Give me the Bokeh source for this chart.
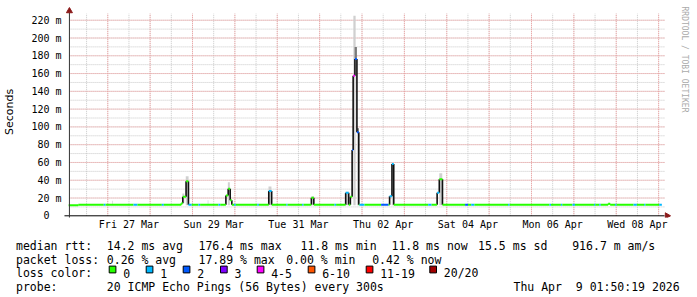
import numpy as np
from bokeh.plotting import figure
from bokeh.models import Range1d, FixedTicker, Title
from bokeh.embed import file_html
from bokeh.resources import INLINE
from bokeh.core.properties import value

# ---------------- data ----------------
# time axis: days since Thu 26 Mar 2026 00:00
T_START = 0.0766   # Thu 26 Mar 01:50:19
T_END = 14.0766    # Thu 09 Apr 01:50:19

# median rtt as steps: step start (days), median (ms), loss class index
med_t = [0.077, 0.306, 0.906, 0.948, 1.607, 1.701, 2.276, 2.323, 2.736, 2.771,
         2.848, 2.904, 2.982, 3.140, 3.180, 3.612, 3.655, 3.788, 3.842, 3.889,
         3.928, 3.982, 4.021, 4.529, 4.566, 4.800, 4.868, 5.213, 5.243, 5.587,
         5.622, 5.805, 5.863, 6.351, 6.389, 6.615, 6.686, 6.725, 6.767, 6.791,
         6.833, 6.880, 6.924, 6.942, 7.059, 7.450, 7.627, 7.651, 7.707, 7.749,
         8.562, 8.642, 8.773, 8.824, 8.899, 9.432, 9.502, 9.577, 9.653, 10.448,
         10.483, 11.423, 11.460, 11.694, 11.727, 11.967, 12.026, 12.474, 12.505, 12.599,
         12.634, 12.809, 12.856, 12.972, 13.007, 13.409, 13.487, 13.658, 13.690, 14.013]
med_ms = [11.8, 12.3, 12.3, 12.3, 12.3, 12.3, 12.3, 12.3, 14.0, 21.5,
          38.8, 12.3, 12.3, 12.3, 12.3, 12.3, 12.3, 22.7, 30.3, 17.5,
          12.3, 12.3, 12.3, 12.3, 12.3, 28.0, 12.3, 12.3, 12.3, 12.3,
          12.3, 20.2, 12.3, 12.3, 12.3, 25.8, 12.3, 21.5, 74.0, 157.5,
          176.4, 94.0, 12.3, 12.3, 12.3, 12.3, 12.3, 22.0, 58.4, 12.3,
          12.3, 12.3, 26.0, 41.0, 12.3, 12.3, 12.3, 12.3, 12.3, 12.3,
          12.3, 12.3, 12.3, 12.3, 12.3, 12.3, 12.3, 12.3, 12.3, 12.3,
          12.3, 13.5, 12.3, 12.3, 12.3, 12.3, 12.3, 12.3, 12.3, 12.3]
med_loss = [0, 0, 1, 0, 1, 0, 1, 0, 0, 0,
            0, 1, 0, 1, 0, 1, 0, 0, 0, 0,
            0, 1, 0, 1, 0, 1, 0, 1, 0, 1,
            0, 0, 0, 1, 0, 1, 0, 0, 2, 4,
            2, 2, 0, 1, 0, 2, 0, 1, 1, 0,
            1, 0, 1, 0, 0, 2, 0, 1, 0, 1,
            0, 1, 0, 1, 0, 1, 0, 1, 0, 1,
            0, 0, 0, 1, 0, 1, 0, 1, 0, 1]

# smoke (spread of the individual pings)
smoke_t0 = [2.760, 2.841, 3.834, 4.793, 5.809, 6.615, 6.796, 6.826, 6.880, 6.880, 7.703, 8.824, 1.100, 3.359]
smoke_t1 = [2.806, 2.907, 3.881, 4.863, 5.868, 6.686, 6.850, 6.880, 6.927, 6.927, 7.744, 8.894, 1.115, 3.374]
smoke_lo = [14.0, 12.0, 12.0, 12.0, 12.0, 12.0, 12.0, 177.0, 12.0, 94.0, 12.0, 12.0, 12.0, 12.0]
smoke_hi = [25.0, 44.5, 37.7, 33.0, 22.0, 27.0, 225.0, 190.0, 98.5, 98.5, 60.6, 48.0, 17.0, 17.5]
smoke_dense = [0, 0, 0, 0, 0, 0, 0, 1, 0, 1, 0, 0, 0, 0]

loss_labels = ["0", "1", "2", "3", "4-5", "6-10", "11-19", "20/20"]
loss_colors = ["#26ff00", "#00b8ff", "#0059ff", "#7e00ff", "#ff00ff", "#ff5500", "#ff0000", "#a10000"]

x_tick_pos = [1.5, 3.5, 5.5, 7.5, 9.5, 11.5, 13.5]
x_tick_labels = ["Fri 27 Mar", "Sun 29 Mar", "Tue 31 Mar", "Thu 02 Apr",
                 "Sat 04 Apr", "Mon 06 Apr", "Wed 08 Apr"]
y_tick_pos = [0, 20, 40, 60, 80, 100, 120, 140, 160, 180, 200, 220]
y_tick_labels = ["0\u00a0\u00a0", "20 m", "40 m", "60 m", "80 m", "100 m", "120 m",
                 "140 m", "160 m", "180 m", "200 m", "220 m"]

rtt_stats = [("14.2 ms", "avg"), ("176.4 ms", "max"), ("11.8 ms", "min"),
             ("11.8 ms", "now"), ("15.5 ms", "sd"), ("916.7 m", "am/s")]
loss_stats = [("0.26 %", "avg"), ("17.89 %", "max"), ("0.00 %", "min"), ("0.42 %", "now")]
probe_text = "20 ICMP Echo Pings (56 Bytes) every 300s"
stamp_text = "Thu Apr \u00a09 01:50:19 2026"

# ---------------- layout ----------------
W = 697
H1, H2 = 232, 65
FRAME_L, FRAME_R, FRAME_T, FRAME_B = 60, 676, 6, 217
PX_PER_DAY, X0_PX = 42.79, 62.92
PX_PER_MS, Y0_PX = 0.889, 215.3


def px2day(px):
    return (px - X0_PX) / PX_PER_DAY


def px2ms(py):
    return (Y0_PX - py) / PX_PER_MS


MONO = "DejaVu Sans Mono"
ARROW = "#8b1a1a"
GRID = "#c8c8c8"
MGRID = "#f2a0a0"

p = figure(width=W, height=H1, title=None,
           x_range=Range1d(px2day(FRAME_L), px2day(FRAME_R)),
           y_range=Range1d(px2ms(FRAME_B), px2ms(FRAME_T)),
           output_backend="svg", toolbar_location=None,
           min_border_left=FRAME_L, min_border_right=W - FRAME_R,
           min_border_top=FRAME_T, min_border_bottom=H1 - FRAME_B)
p.outline_line_color = None
p.background_fill_color = "white"
p.border_fill_color = "white"
p.xgrid.visible = False
p.ygrid.visible = False

p.xaxis.ticker = FixedTicker(ticks=x_tick_pos)
p.xaxis.major_label_overrides = dict(zip(x_tick_pos, x_tick_labels))
p.yaxis.ticker = FixedTicker(ticks=y_tick_pos)
p.yaxis.major_label_overrides = dict(zip(y_tick_pos, y_tick_labels))
for ax in (p.xaxis[0], p.yaxis[0]):
    ax.axis_line_color = None
    ax.major_tick_line_color = None
    ax.minor_tick_line_color = None
    ax.major_tick_out = 0
    ax.major_tick_in = 0
    ax.minor_tick_out = 0
    ax.minor_tick_in = 0
    ax.major_label_text_font = MONO
    ax.major_label_text_font_size = "10px"
    ax.major_label_text_color = "#000000"
    ax.major_label_standoff = 1
p.yaxis.axis_label = "Seconds"
p.yaxis.axis_label_text_font = "DejaVu Sans"
p.yaxis.axis_label_text_font_size = "11px"
p.yaxis.axis_label_text_font_style = "normal"
p.yaxis.axis_label_text_color = "#000000"
p.yaxis.axis_label_standoff = 12

p.add_layout(Title(text="RRDTOOL / TOBI OETIKER", text_font=MONO, text_font_size="8px",
                   text_font_style="normal", text_color="#aaaaaa", align="left",
                   padding=5, offset=-5, standoff=4), "right")

# grid (from the tick spacing: 12 h / 24 h, 10 ms / 20 ms)
minor_x = np.arange(1, 29) * 0.5
major_x = np.arange(1, 15) * 1.0
minor_y = np.arange(1, 23) * 10.0
major_y = np.arange(1, 12) * 20.0
gx0, gx1 = px2day(67), px2day(668)
gy1 = px2ms(13)
p.segment(x0=minor_x, y0=0, x1=minor_x, y1=gy1, line_color=GRID, line_dash="1 1", line_width=1)
p.segment(x0=gx0, y0=minor_y, x1=gx1, y1=minor_y, line_color=GRID, line_dash="1 1", line_width=1)
p.segment(x0=major_x, y0=0, x1=major_x, y1=gy1, line_color=MGRID, line_dash="1 1", line_width=1)
p.segment(x0=gx0, y0=major_y, x1=gx1, y1=major_y, line_color=MGRID, line_dash="1 1", line_width=1)

# smoke
smoke_col = ["#7a7a7a" if d else "#d0d0d0" for d in smoke_dense]
p.quad(left=smoke_t0, right=smoke_t1, bottom=smoke_lo, top=smoke_hi,
       fill_color=smoke_col, line_color=None)

# median: vertical connectors, then loss coloured steps
seg_end = med_t[1:] + [T_END]
seg_col = [loss_colors[k] for k in med_loss]
cx = med_t[1:]
cy0 = med_ms[:-1]
cy1 = med_ms[1:]
c_col = ["#111111" if abs(b - a) > 3 else seg_col[i + 1] for i, (a, b) in enumerate(zip(cy0, cy1))]
p.segment(x0=cx, y0=cy0, x1=cx, y1=cy1, line_color=c_col, line_width=1.6)
p.segment(x0=med_t, y0=med_ms, x1=seg_end, y1=med_ms, line_color=seg_col, line_width=2)

# axes with arrows
p.segment(x0=[px2day(62)], y0=[0], x1=[px2day(668)], y1=[0], line_color="#000000", line_width=1)
p.segment(x0=[px2day(67)], y0=[px2ms(218.5)], x1=[px2day(67)], y1=[px2ms(12)],
          line_color="#333333", line_width=1)
p.scatter(x=[px2day(670.5)], y=[0], marker="triangle", size=6, angle=-np.pi / 2,
          fill_color=ARROW, line_color=ARROW)
p.scatter(x=[px2day(67)], y=[px2ms(10.5)], marker="triangle", size=6,
          fill_color=ARROW, line_color=ARROW)

# ---------------- legend / stats strip: its own root, y grows downward ----------------
q = figure(width=W, height=H2, title=None, x_range=Range1d(0, W), y_range=Range1d(H2, 0),
           output_backend="svg", toolbar_location=None, min_border=0,
           x_axis_location=None, y_axis_location=None)
q.outline_line_color = None
q.xgrid.visible = False
q.ygrid.visible = False
q.background_fill_color = "white"
q.border_fill_color = "white"

line_base = [245.2 - H1, 259.0 - H1, 272.7 - H1, 286.4 - H1]
col1_x, rtt_x = 15.5, [106.3, 198.0, 300.0, 391.0, 477.6, 571.7]
loss_x = [106.3, 198.0, 285.7, 371.7]
box_left = [108.7, 145.7, 182.7, 220.0, 256.7, 307.7, 365.7, 429.3]
items = [(col1_x, line_base[0], "median rtt:")]
items += [(x, line_base[0], f"{v} {w}") for x, (v, w) in zip(rtt_x, rtt_stats)]
items += [(col1_x, line_base[1], "packet loss:")]
items += [(x, line_base[1], f"{v} {w}") for x, (v, w) in zip(loss_x, loss_stats)]
items += [(col1_x, line_base[2], "loss color:")]
items += [(b + 14, line_base[2], lab) for b, lab in zip(box_left, loss_labels)]
items += [(col1_x, line_base[3], "probe:"), (106.3, line_base[3], probe_text),
          (513.0, line_base[3], stamp_text)]
tx, ty, tt = zip(*items)
q.text(x=list(tx), y=list(ty), text=list(tt), text_font=value(MONO), text_font_size="11.5px",
       text_baseline="alphabetic", text_align="left", text_color="#000000")
q.rect(x=[b + 3.35 for b in box_left], y=269.0 - H1, width=6.7, height=6.8,
       fill_color=loss_colors, line_color="#000000", line_width=1)

open("out.html", "w").write(file_html([p, q], INLINE))
